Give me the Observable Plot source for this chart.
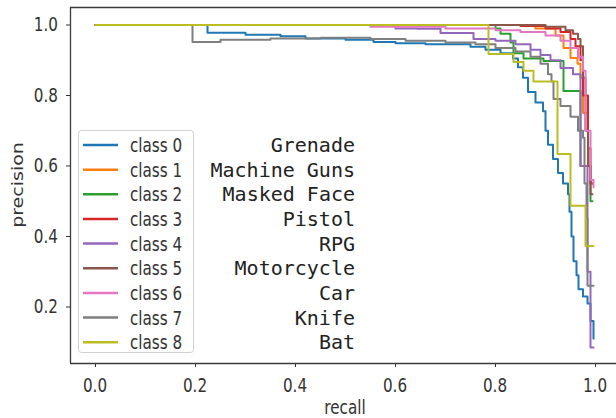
<!DOCTYPE html>
<html><head><meta charset="utf-8">
<script src="https://cdn.jsdelivr.net/npm/d3@7"></script>
<script src="https://cdn.jsdelivr.net/npm/@observablehq/plot@0.6"></script>
<style>
body{margin:0;background:#fff;}
#chart{position:relative;width:616px;height:418px;overflow:hidden;}
</style>
</head><body><div id="chart"></div>
<script>
// ---- data ----
const legendLabels = ["class 0","class 1","class 2","class 3","class 4","class 5","class 6","class 7","class 8"];
const classNames = ["Grenade","Machine Guns","Masked Face","Pistol","RPG","Motorcycle","Car","Knife","Bat"];
const colors = ["#1f77b4","#ff7f0e","#2ca02c","#d62728","#9467bd","#8c564b","#e377c2","#7f7f7f","#bcbd22"];
const xTicks = [0.0,0.2,0.4,0.6,0.8,1.0];
const yTicks = [0.2,0.4,0.6,0.8,1.0];

// [recall, precision] points per class (step curves)
const c0 = [[0,1],[0.224,0.978],[0.30,0.972],[0.37,0.968],[0.42,0.962],[0.50,0.958],[0.556,0.952],[0.60,0.948],[0.66,0.945],[0.75,0.938],[0.78,0.930],[0.81,0.920],[0.835,0.905],[0.845,0.880],[0.855,0.850],[0.865,0.810],[0.880,0.780],[0.895,0.755],[0.900,0.700],[0.905,0.660],[0.915,0.620],[0.925,0.580],[0.935,0.550],[0.945,0.520],[0.948,0.470],[0.952,0.400],[0.956,0.330],[0.962,0.290],[0.966,0.250],[0.975,0.230],[0.984,0.210],[0.990,0.160],[0.996,0.110]];
const c1 = [[0,1],[0.88,0.99],[0.92,0.97],[0.936,0.935],[0.95,0.906],[0.964,0.89],[0.97,0.85],[0.975,0.75],[0.985,0.60],[0.99,0.55],[0.994,0.55]];
const c2 = [[0,1],[0.80,0.99],[0.81,0.975],[0.83,0.95],[0.836,0.92],[0.856,0.905],[0.896,0.898],[0.936,0.813],[0.97,0.60],[0.99,0.50],[0.994,0.50]];
const c3 = [[0,1],[0.85,0.997],[0.90,0.99],[0.93,0.98],[0.95,0.96],[0.96,0.94],[0.97,0.90],[0.975,0.80],[0.985,0.65],[0.99,0.55],[0.994,0.55]];
const c4 = [[0,1],[0.60,0.99],[0.644,0.989],[0.69,0.977],[0.756,0.96],[0.80,0.955],[0.84,0.945],[0.87,0.93],[0.89,0.915],[0.91,0.90],[0.93,0.878],[0.955,0.86],[0.97,0.60],[0.984,0.30],[0.99,0.085],[0.996,0.085]];
const c5 = [[0,1],[0.90,0.995],[0.94,0.985],[0.955,0.975],[0.965,0.96],[0.97,0.94],[0.975,0.85],[0.98,0.70],[0.985,0.60],[0.99,0.52],[0.994,0.52]];
const c6 = [[0,1],[0.55,0.995],[0.70,0.99],[0.80,0.985],[0.85,0.98],[0.90,0.97],[0.93,0.955],[0.95,0.935],[0.965,0.91],[0.975,0.87],[0.98,0.70],[0.99,0.56],[0.996,0.54]];
const c7 = [[0,1],[0.194,0.952],[0.25,0.958],[0.35,0.962],[0.45,0.964],[0.55,0.96],[0.62,0.955],[0.70,0.95],[0.76,0.945],[0.80,0.935],[0.84,0.925],[0.87,0.91],[0.89,0.89],[0.905,0.86],[0.912,0.84],[0.916,0.79],[0.93,0.77],[0.95,0.74],[0.965,0.70],[0.975,0.68],[0.978,0.55],[0.982,0.45],[0.984,0.26],[0.996,0.26]];
const c8 = [[0,1],[0.786,0.918],[0.836,0.895],[0.856,0.87],[0.876,0.84],[0.924,0.634],[0.95,0.487],[0.98,0.373],[0.996,0.373]];
const curves = [c0,c1,c2,c3,c4,c5,c6,c7,c8];

const rows = curves.flatMap((pts,i)=>pts.map(([r,p])=>({cls:legendLabels[i],recall:r,precision:p})));

const xDomain = [-0.05, 1.042];
const yDomain = [0.0397, 1.0496];
const sans = "'DejaVu Sans',sans-serif";
const squeeze = 0.8;   // reference text is horizontally condensed

const plot = Plot.plot({
  width:616, height:418,
  marginLeft:70, marginRight:0, marginTop:7, marginBottom:55,
  style:{fontFamily:sans, fontSize:"19px", color:"#333", background:"#fff", overflow:"visible"},
  x:{domain:xDomain, ticks:xTicks, tickFormat:()=>"", tickSize:4, label:null},
  y:{domain:yDomain, ticks:yTicks, tickFormat:()=>"", tickSize:4, label:null},
  color:{domain:legendLabels, range:colors},
  marks:[
    Plot.line(rows,{x:"recall",y:"precision",z:"cls",stroke:"cls",curve:"step-after",strokeWidth:2}),
    Plot.ruleX([xDomain[0]],{stroke:"#3a3a3a",strokeWidth:1.3}),
    Plot.ruleY(yDomain,{stroke:"#3a3a3a",strokeWidth:1.3})
  ]
});
document.getElementById("chart").appendChild(plot);

// ---- text, legend (layout) ----
const xs = plot.scale("x"), ys = plot.scale("y");
const svg = d3.select(plot);
const g = svg.append("g");
const fmt = d3.format(".1f");
function label(x, y, txt, anchor, size, family, fill){
  return g.append("text").attr("transform",`translate(${x},${y}) scale(${squeeze},1)`)
    .attr("text-anchor",anchor).attr("font-family",family||sans).attr("font-size",(size||19)+"px")
    .attr("fill",fill||"#333").text(txt);
}
xTicks.forEach(t=>label(xs.apply(t), 392, fmt(t), "middle"));
yTicks.forEach(t=>label(58, ys.apply(t)+7, fmt(t), "end"));

g.append("rect").attr("x",78.5).attr("y",130.5).attr("width",115).attr("height",222)
  .attr("rx",3).attr("fill","#fff").attr("fill-opacity",0.85).attr("stroke","#d0d0d0");
legendLabels.forEach((lab,i)=>{
  const cy = 145 + i*24.65;
  g.append("line").attr("x1",83).attr("x2",118).attr("y1",cy).attr("y2",cy)
    .attr("stroke",colors[i]).attr("stroke-width",2.5);
  label(130, cy+7, lab, "start", 19);
  g.append("text").attr("x",355).attr("y",cy+7).text(classNames[i])
    .attr("text-anchor","end").attr("font-family","'DejaVu Sans Mono',monospace")
    .attr("font-size","20px").attr("fill","#222");
});
label(345, 414, "recall", "middle", 19);
g.append("text").attr("transform",`translate(23,185) scale(${squeeze},1) rotate(-90)`)
  .attr("text-anchor","middle").text("precision")
  .attr("font-family",sans).attr("font-size","19px").attr("fill","#333");
</script>
</body></html>
